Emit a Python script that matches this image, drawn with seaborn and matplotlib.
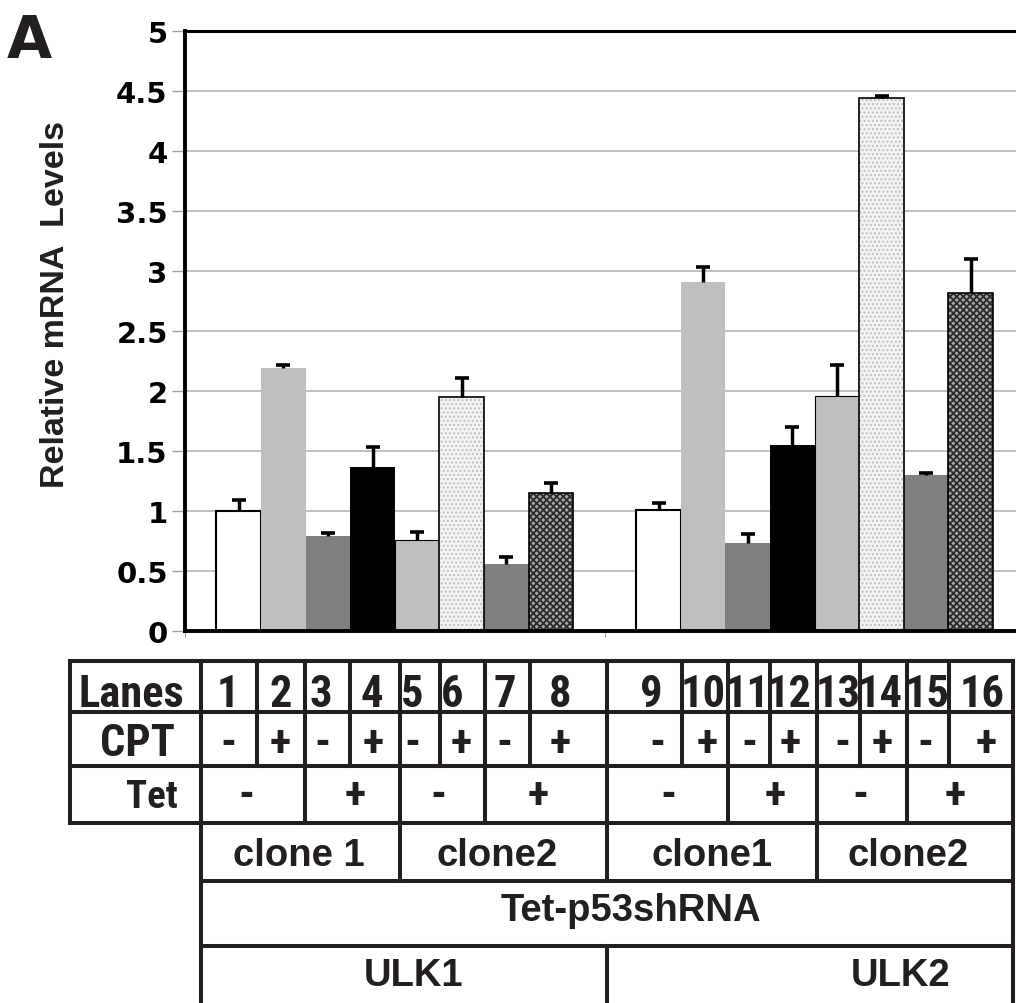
import numpy as np
import pandas as pd
import matplotlib
matplotlib.use("Agg")
import matplotlib.pyplot as plt
import matplotlib.font_manager as fm
from matplotlib.patches import Rectangle
import seaborn as sns

# ---------------- data ----------------
genes = ["ULK1", "ULK2"]
conditions = ["c1", "c2", "c3", "c4", "c5", "c6", "c7", "c8"]
ulk1_values = [1.00, 2.19, 0.79, 1.37, 0.76, 1.95, 0.56, 1.15]
ulk1_errors = [0.09, 0.03, 0.03, 0.16, 0.065, 0.16, 0.06, 0.08]
ulk2_values = [1.01, 2.91, 0.73, 1.55, 1.96, 4.44, 1.30, 2.82]
ulk2_errors = [0.06, 0.12, 0.08, 0.15, 0.26, 0.02, 0.02, 0.28]

ytick_values = [0, 0.5, 1, 1.5, 2, 2.5, 3, 3.5, 4, 4.5, 5]
ytick_labels = ["0", "0.5", "1", "1.5", "2", "2.5", "3", "3.5", "4", "4.5", "5"]

lane_labels = [str(i) for i in range(1, 17)]
cpt_signs = ["-", "+", "-", "+", "-", "+", "-", "+",
             "-", "+", "-", "+", "-", "+", "-", "+"]
tet_signs = ["-", "+", "-", "+", "-", "+", "-", "+"]
clone_labels = ["clone 1", "clone2", "clone1", "clone2"]
construct_label = "Tet-p53shRNA"
gene_labels = ["ULK1", "ULK2"]
row_labels = ["Lanes", "CPT", "Tet"]

df = pd.DataFrame({
    "gene": np.repeat(genes, len(conditions)),
    "cond": conditions * len(genes),
    "value": ulk1_values + ulk2_values,
    "err": ulk1_errors + ulk2_errors,
})

# ---------------- styling ----------------
sns.set_theme(style="white")
plt.rcParams["font.family"] = ["DejaVu Sans"]
plt.rcParams["hatch.linewidth"] = 1.0

names = {f.name for f in fm.fontManager.ttflist}
if "Liberation Sans Narrow" in names:
    NARROW, NS = "Liberation Sans Narrow", 1.0
elif "Roboto Condensed" in names:
    NARROW, NS = "Roboto Condensed", 1.0
else:
    NARROW, NS = "Liberation Sans", 0.82
WIDE = "Liberation Sans"
INK = "#231f20"

W, H = 1016, 1004
fig = plt.figure(figsize=(W / 100, H / 100), dpi=100)

# main axes: x from 185 px to ~1024 px (cut by figure edge), y 0 at 632 px, 5 at 32 px
ax_left, ax_right, ax_top, ax_bot = 185, 1024.5, 32, 632
ax = fig.add_axes([ax_left / W, (H - ax_bot) / H, (ax_right - ax_left) / W, (ax_bot - ax_top) / H])

palette = ["white", "#bfbfbf", "#7f7f7f", "black", "#bfbfbf", "#f3f3f3", "#808080", "#a8a8a8"]
sns.barplot(data=df, x="gene", y="value", hue="cond", hue_order=conditions,
            palette=palette, width=0.85, errorbar=None, legend=False,
            linewidth=0, ax=ax, zorder=2)
bar_containers = list(ax.containers)

styles = [
    dict(ec="black", lw=1.5, hatch=None),
    dict(ec="none", lw=0, hatch=None),
    dict(ec="none", lw=0, hatch=None),
    dict(ec="black", lw=0, hatch=None),
    dict(ec="black", lw=0.8, hatch=None),
    dict(ec="black", lw=1.2, hatch="....", hc="#bdbdbd", hlw=1.0),
    dict(ec="none", lw=0, hatch=None),
    dict(ec="black", lw=1.2, hatch="xxxxx", hc="#2a2a2a", hlw=1.3),
]

for ci, cont in enumerate(bar_containers):
    st = styles[ci]
    for bar in cont:
        if st["hatch"]:
            bar.set_hatch(st["hatch"])
            bar.set_edgecolor(st["hc"])
            bar.set_linewidth(0)
            if hasattr(bar, "set_hatch_linewidth"):
                bar.set_hatch_linewidth(st["hlw"])
            ax.add_patch(Rectangle(bar.get_xy(), bar.get_width(), bar.get_height(),
                                   fill=False, ec=st["ec"], lw=st["lw"], zorder=2.1))
        else:
            bar.set_edgecolor(st["ec"])
            bar.set_linewidth(st["lw"])

# error bars (upper only) at the library's bar positions
sub_err = df.set_index(["gene", "cond"])["err"]
for ci, cont in enumerate(bar_containers):
    xs = [b.get_x() + b.get_width() / 2 for b in cont]
    tops = [b.get_height() for b in cont]
    errs = [sub_err[(g, conditions[ci])] for g in genes]
    _, caps, _ = ax.errorbar(xs, tops, yerr=[np.zeros(len(errs)), errs], fmt="none",
                             ecolor="black", elinewidth=2.5, capsize=5, capthick=2.6, zorder=4)
    for c in caps:
        if np.allclose(c.get_ydata(), tops):
            c.set_visible(False)

ax.set_xlim(-0.5, 1.5)
ax.set_ylim(0, 5)
ax.set_yticks(ytick_values)
ax.set_yticklabels(ytick_labels)
for lbl in ax.get_yticklabels():
    lbl.set_fontweight("bold")
    lbl.set_fontsize(21)
    lbl.set_color("black")
ax.set_xticks([-0.5, 0.5, 1.5])
ax.set_xticklabels([])
ax.set_xlabel("")
ax.tick_params(axis="y", left=True, length=9.5, width=1.0, color="#a0a0a0", pad=3)
ax.tick_params(axis="x", bottom=True, length=4, width=0.8, color="#a0a0a0")
ax.yaxis.grid(True, color="#b4b4b4", lw=1.2)
ax.set_axisbelow(True)
ax.spines["left"].set_linewidth(2.8)
ax.spines["left"].set_color("black")
ax.spines["bottom"].set_linewidth(2.8)
ax.spines["bottom"].set_color("black")
ax.spines["top"].set_linewidth(2.2)
ax.spines["top"].set_color("black")
ax.spines["right"].set_visible(False)

ax.set_ylabel("Relative mRNA  Levels", family=WIDE, fontweight="bold", fontsize=24.5,
              color=INK, va="center", ha="center")
ax.yaxis.set_label_coords((55 - ax_left) / (ax_right - ax_left), (ax_bot - 305) / (ax_bot - ax_top))

# ---------------- overlay for panel letter + table ----------------
tax = fig.add_axes([0, 0, 1, 1])
tax.set_xlim(0, W)
tax.set_ylim(H, 0)
tax.axis("off")

tax.text(29, 41, "A", ha="center", va="center", fontsize=42, fontweight="bold",
         family="DejaVu Sans", color=INK)

LW = 2.9
def hline(y, x0, x1):
    tax.plot([x0, x1], [y, y], color=INK, lw=LW, solid_capstyle="projecting")
def vline(x, y0, y1):
    tax.plot([x, x], [y0, y1], color=INK, lw=LW, solid_capstyle="projecting")

rows_y = [662, 713, 767, 824, 882, 947, 1004]
for y in rows_y[:4]:
    hline(y, 70, 1013)
for y in rows_y[4:6]:
    hline(y, 201, 1013)
vline(70, 662, 824)
vline(201, 662, 1004)
vline(1013, 662, 1004)
for x in [257, 350, 440, 530, 682, 770, 860, 949]:
    vline(x, 662, 767)
for x in [305, 485, 728, 907]:
    vline(x, 662, 824)
for x in [400, 817]:
    vline(x, 662, 882)
vline(607, 662, 882)
vline(607, 947, 1004)

lane_x = [228, 281, 321, 372, 412, 452, 505, 560, 651, 703, 747, 789, 838, 880, 927, 982]
cpt_x = [228, 280, 322, 373, 412, 461, 504, 560, 657, 707, 749, 790, 842, 882, 925, 986]
tet_x = [246, 355, 438, 538, 668, 775, 860, 955]
clone_x = [299, 497, 712, 908]
gene_x = [414, 901]

def ttext(x, y, s, size, fam):
    tax.text(x, y, s, ha="center", va="baseline", fontsize=size, fontweight="bold",
             family=fam, color=INK)

ttext(131, 707, row_labels[0], 32 * NS, NARROW)
ttext(137, 756, row_labels[1], 32 * NS, NARROW)
ttext(152, 808, row_labels[2], 28 * NS, NARROW)
for x, s in zip(lane_x, lane_labels):
    ttext(x, 707, s, 32 * NS, NARROW)
for x, s in zip(cpt_x, cpt_signs):
    ttext(x, 756, s, 32 * NS, NARROW)
for x, s in zip(tet_x, tet_signs):
    ttext(x, 808, s, 32 * NS, NARROW)
for x, s in zip(clone_x, clone_labels):
    ttext(x, 866, s, 27.5, WIDE)
ttext(631, 921, construct_label, 27.5, WIDE)
for x, s in zip(gene_x, gene_labels):
    ttext(x, 986, s, 27.5, WIDE)

fig.savefig("out.png", dpi=100)
